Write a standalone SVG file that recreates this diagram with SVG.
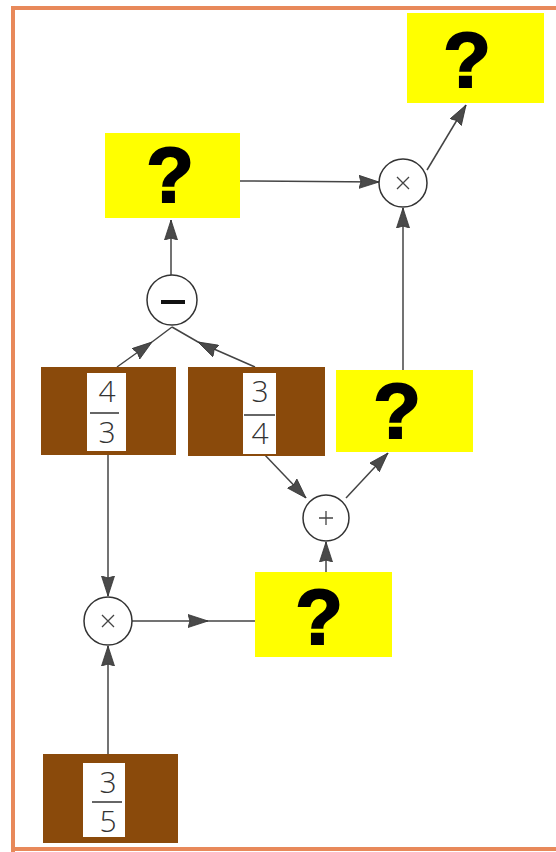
<svg xmlns="http://www.w3.org/2000/svg" width="556" height="852" viewBox="0 0 556 852">
  <defs>
    <marker id="arr" markerUnits="userSpaceOnUse" viewBox="0 0 20 14" refX="20" refY="7" markerWidth="20" markerHeight="14" orient="auto">
      <path d="M0,0.5 L20,7 L0,13.5 L2,7 z" fill="#4a4a4a" stroke="#333" stroke-width="0.8"/>
    </marker>
    <style>
      .yel { fill: #ffff00; }
      .brn { fill: #8a4a0b; }
      .ins { fill: #ffffff; }
      .q { font-family: "Liberation Sans", Arial, sans-serif; font-weight: bold; font-size: 78px; fill: #000; stroke: #000; stroke-width: 2; text-anchor: middle; }
      .num { font-family: "Open Sans", "Liberation Sans", sans-serif; font-weight: 300; font-size: 30px; fill: #333; text-anchor: middle; }
      .bar { stroke: #333; stroke-width: 1.5; }
      .op { fill: #fff; stroke: #333; stroke-width: 1.5; }
      .sym { stroke: #444; stroke-width: 1.3; fill: none; }
      .c { fill: none; stroke: #444; stroke-width: 1.5; }
      .ce { marker-end: url(#arr); }
      .cm { marker-mid: url(#arr); }
    </style>
  </defs>
  <rect width="556" height="852" fill="#ffffff"/>
  <path d="M13,852 L13,8 L556,8 M13,849 L556,849" fill="none" stroke="#e8895a" stroke-width="4"/>

  <g id="connectors">
    <path class="c ce" d="M240,181 L379,182"/>
    <path class="c ce" d="M427,170 L466,105"/>
    <path class="c ce" d="M403,370 L403,208"/>
    <path class="c ce" d="M171,275 L171,220"/>
    <path class="c cm" d="M117,367 L152,342 L172,327"/>
    <path class="c cm" d="M255,367 L198,342 L172,327"/>
    <path class="c ce" d="M263,453 L306,498"/>
    <path class="c ce" d="M346,498 L388,453"/>
    <path class="c ce" d="M326,572 L326,542"/>
    <path class="c ce" d="M108,455 L108,596"/>
    <path class="c ce" d="M108,754 L108,646"/>
    <path class="c cm" d="M132,621 L208,621 L256,621"/>
  </g>

  <g id="q-top-right">
    <rect class="yel" x="407" y="13" width="137" height="90"/>
    <text class="q" x="467" y="87">?</text>
  </g>
  <g id="q-left">
    <rect class="yel" x="105" y="133" width="135" height="85"/>
    <text class="q" x="170" y="202">?</text>
  </g>
  <g id="q-right">
    <rect class="yel" x="336" y="370" width="137" height="82"/>
    <text class="q" x="397" y="438">?</text>
  </g>
  <g id="q-bottom">
    <rect class="yel" x="255" y="572" width="137" height="85"/>
    <text class="q" x="319" y="644">?</text>
  </g>

  <g id="op-times-top">
    <circle class="op" cx="403" cy="183" r="24"/>
    <path class="sym" d="M397,177 L409,189 M409,177 L397,189"/>
  </g>
  <g id="op-minus">
    <circle class="op" cx="172" cy="300" r="25"/>
    <rect x="161" y="300" width="24" height="4" fill="#111"/>
  </g>
  <g id="op-plus">
    <circle class="op" cx="326" cy="518" r="23"/>
    <path class="sym" d="M326,511 L326,525 M319,518 L333,518"/>
  </g>
  <g id="op-times-bottom">
    <circle class="op" cx="108" cy="621" r="24"/>
    <path class="sym" d="M102,615 L114,627 M114,615 L102,627"/>
  </g>

  <g id="frac-4-3">
    <rect class="brn" x="41" y="367" width="135" height="88"/>
    <rect class="ins" x="87" y="373" width="39" height="78"/>
    <text class="num" x="107" y="402">4</text>
    <line class="bar" x1="90" y1="413" x2="119" y2="413"/>
    <text class="num" x="107" y="443">3</text>
  </g>
  <g id="frac-3-4">
    <rect class="brn" x="188" y="367" width="137" height="89"/>
    <rect class="ins" x="243" y="373" width="33" height="81"/>
    <text class="num" x="260" y="402">3</text>
    <line class="bar" x1="244" y1="415" x2="275" y2="415"/>
    <text class="num" x="260" y="444">4</text>
  </g>
  <g id="frac-3-5">
    <rect class="brn" x="43" y="754" width="135" height="89"/>
    <rect class="ins" x="83" y="763" width="42" height="74"/>
    <text class="num" x="108" y="793">3</text>
    <line class="bar" x1="92" y1="802" x2="122" y2="802"/>
    <text class="num" x="108" y="832">5</text>
  </g>
</svg>
